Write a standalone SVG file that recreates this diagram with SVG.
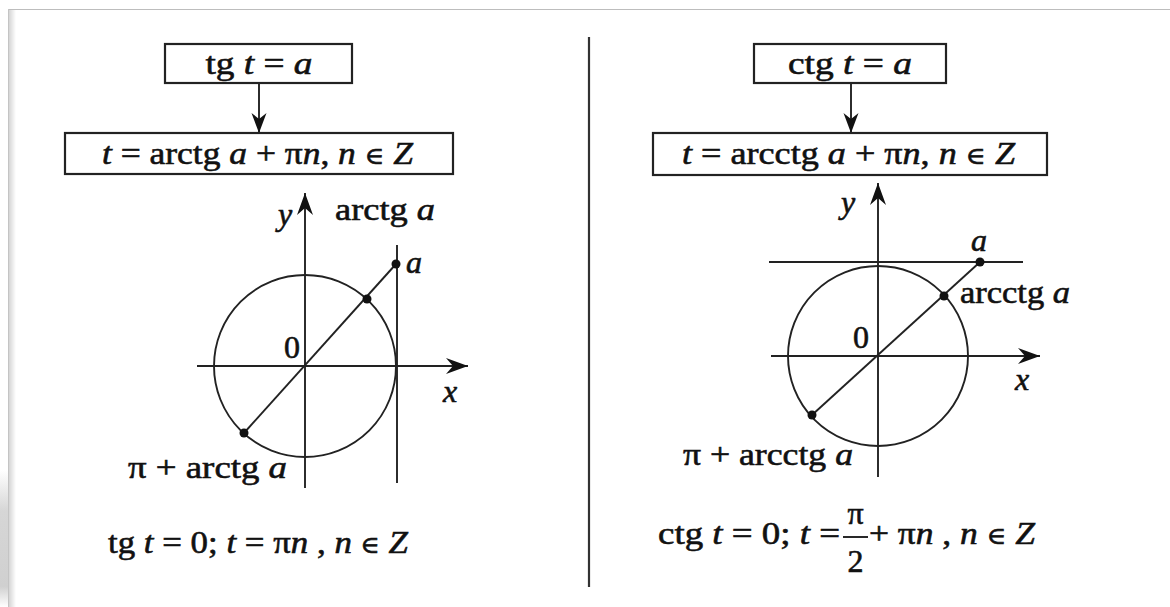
<svg xmlns="http://www.w3.org/2000/svg" width="1170" height="607" viewBox="0 0 1170 607">
<defs>
<style>
.t{font-family:"Liberation Serif","DejaVu Serif",serif;font-size:32px;fill:#111;stroke:#111;stroke-width:0.6}
.i{font-style:italic}
.e{font-size:24px}
.box{fill:#fff;stroke:#222;stroke-width:2.2}
.ln{stroke:#222;stroke-width:1.9;fill:none}
.dot{fill:#111}
</style>
<linearGradient id="edge" x1="0" x2="1" y1="0" y2="0">
<stop offset="0" stop-color="#cfcfcf"/>
<stop offset="1" stop-color="#ffffff"/>
</linearGradient>
<linearGradient id="shade" x1="0" x2="0" y1="0" y2="1">
<stop offset="0" stop-color="#ffffff"/>
<stop offset="0.3" stop-color="#d6d6d6"/>
<stop offset="0.85" stop-color="#d0d0d0"/>
<stop offset="1" stop-color="#ffffff"/>
</linearGradient>
<marker id="ah" viewBox="-24 -9 26 18" refX="0" refY="0" markerWidth="26" markerHeight="18" markerUnits="userSpaceOnUse" orient="auto">
<path d="M0,0 L-22,-8 L-15,0 L-22,8 Z" fill="#111"/>
</marker>
<marker id="ah2" viewBox="-24 -9 26 18" refX="0" refY="0" markerWidth="26" markerHeight="18" markerUnits="userSpaceOnUse" orient="auto">
<path d="M0,0 L-20,-7.5 L-14,0 L-20,7.5 Z" fill="#111"/>
</marker>
</defs>
<rect x="0" y="0" width="1170" height="607" fill="#fff"/>
<g id="frame">
<rect x="0" y="470" width="8" height="137" fill="url(#shade)"/>
<rect x="8" y="9" width="8" height="598" fill="url(#edge)"/>
<line x1="8" y1="9.5" x2="1170" y2="9.5" stroke="#bdbdbd" stroke-width="1.2"/>
<line x1="8.5" y1="9" x2="8.5" y2="607" stroke="#c4c4c4" stroke-width="1"/>
<line x1="589" y1="37" x2="589" y2="587" stroke="#333" stroke-width="2.2"/>
</g>

<g id="connectors">
<line class="ln" x1="259" y1="83" x2="259" y2="133" marker-end="url(#ah2)"/>
<line class="ln" x1="851" y1="83" x2="851" y2="133" marker-end="url(#ah2)"/>
</g>

<g id="box-tg">
<rect class="box" x="165" y="44" width="187" height="39"/>
<text class="t" x="259" y="74" text-anchor="middle" textLength="107" lengthAdjust="spacingAndGlyphs">tg <tspan class="i">t</tspan> = <tspan class="i">a</tspan></text>
</g>
<g id="box-tg-sol">
<rect class="box" x="65" y="133" width="388" height="41"/>
<text class="t" x="257.5" y="164" text-anchor="middle" textLength="311" lengthAdjust="spacingAndGlyphs"><tspan class="i">t</tspan> = arctg <tspan class="i">a</tspan> + π<tspan class="i">n</tspan>,  <tspan class="i">n</tspan> <tspan class="e">∈</tspan> <tspan class="i">Z</tspan></text>
</g>
<g id="box-ctg">
<rect class="box" x="754" y="44" width="192" height="39"/>
<text class="t" x="850" y="74" text-anchor="middle" textLength="124" lengthAdjust="spacingAndGlyphs">ctg <tspan class="i">t</tspan> = <tspan class="i">a</tspan></text>
</g>
<g id="box-ctg-sol">
<rect class="box" x="653" y="133" width="394" height="42"/>
<text class="t" x="848.5" y="164" text-anchor="middle" textLength="333" lengthAdjust="spacingAndGlyphs"><tspan class="i">t</tspan> = arcctg <tspan class="i">a</tspan> + π<tspan class="i">n</tspan>,  <tspan class="i">n</tspan> <tspan class="e">∈</tspan> <tspan class="i">Z</tspan></text>
</g>

<g id="graph-tg">
<line class="ln" x1="305" y1="488" x2="305" y2="193" marker-end="url(#ah)"/>
<line class="ln" x1="197" y1="366" x2="468" y2="366" marker-end="url(#ah)"/>
<circle class="ln" cx="305" cy="366" r="91"/>
<line class="ln" x1="397" y1="245" x2="397" y2="483"/>
<line class="ln" x1="244" y1="433" x2="396" y2="264"/>
<circle class="dot" cx="396" cy="264" r="4.5"/>
<circle class="dot" cx="367" cy="299" r="4.5"/>
<circle class="dot" cx="244" cy="433" r="4.5"/>
<text class="t i" x="278" y="225">y</text>
<text class="t" x="335" y="220" textLength="100" lengthAdjust="spacingAndGlyphs">arctg <tspan class="i">a</tspan></text>
<text class="t i" x="406" y="273">a</text>
<text class="t" x="284" y="358">0</text>
<text class="t i" x="443" y="402">x</text>
<text class="t" x="128" y="478" textLength="159" lengthAdjust="spacingAndGlyphs">π + arctg <tspan class="i">a</tspan></text>
</g>

<g id="graph-ctg">
<line class="ln" x1="878" y1="477" x2="878" y2="183" marker-end="url(#ah)"/>
<line class="ln" x1="771" y1="356" x2="1040" y2="356" marker-end="url(#ah)"/>
<circle class="ln" cx="878" cy="356" r="90"/>
<line class="ln" x1="769" y1="262" x2="1023" y2="262"/>
<line class="ln" x1="812" y1="415" x2="980" y2="262"/>
<circle class="dot" cx="980" cy="262" r="4.5"/>
<circle class="dot" cx="944" cy="296" r="4.5"/>
<circle class="dot" cx="812" cy="415" r="4.5"/>
<text class="t i" x="841" y="213">y</text>
<text class="t i" x="971" y="251">a</text>
<text class="t" x="960" y="303" textLength="110" lengthAdjust="spacingAndGlyphs">arcctg <tspan class="i">a</tspan></text>
<text class="t" x="853" y="348">0</text>
<text class="t i" x="1015" y="390">x</text>
<text class="t" x="683" y="465" textLength="170" lengthAdjust="spacingAndGlyphs">π + arcctg <tspan class="i">a</tspan></text>
</g>

<g id="formula-tg">
<text class="t" x="108" y="553" textLength="300" lengthAdjust="spacingAndGlyphs">tg <tspan class="i">t</tspan> = 0;  <tspan class="i">t</tspan> = π<tspan class="i">n</tspan> ,  <tspan class="i">n</tspan> <tspan class="e">∈</tspan> <tspan class="i">Z</tspan></text>
</g>
<g id="formula-ctg">
<text class="t" x="658" y="544" textLength="182" lengthAdjust="spacingAndGlyphs">ctg <tspan class="i">t</tspan> = 0;  <tspan class="i">t</tspan> =</text>
<text class="t" x="855.5" y="524" text-anchor="middle">π</text>
<line x1="843" y1="537" x2="868" y2="537" stroke="#111" stroke-width="1.8"/>
<text class="t" x="855.5" y="572" text-anchor="middle">2</text>
<text class="t" x="869" y="544" textLength="166" lengthAdjust="spacingAndGlyphs">+ π<tspan class="i">n</tspan> ,  <tspan class="i">n</tspan> <tspan class="e">∈</tspan> <tspan class="i">Z</tspan></text>
</g>
</svg>
